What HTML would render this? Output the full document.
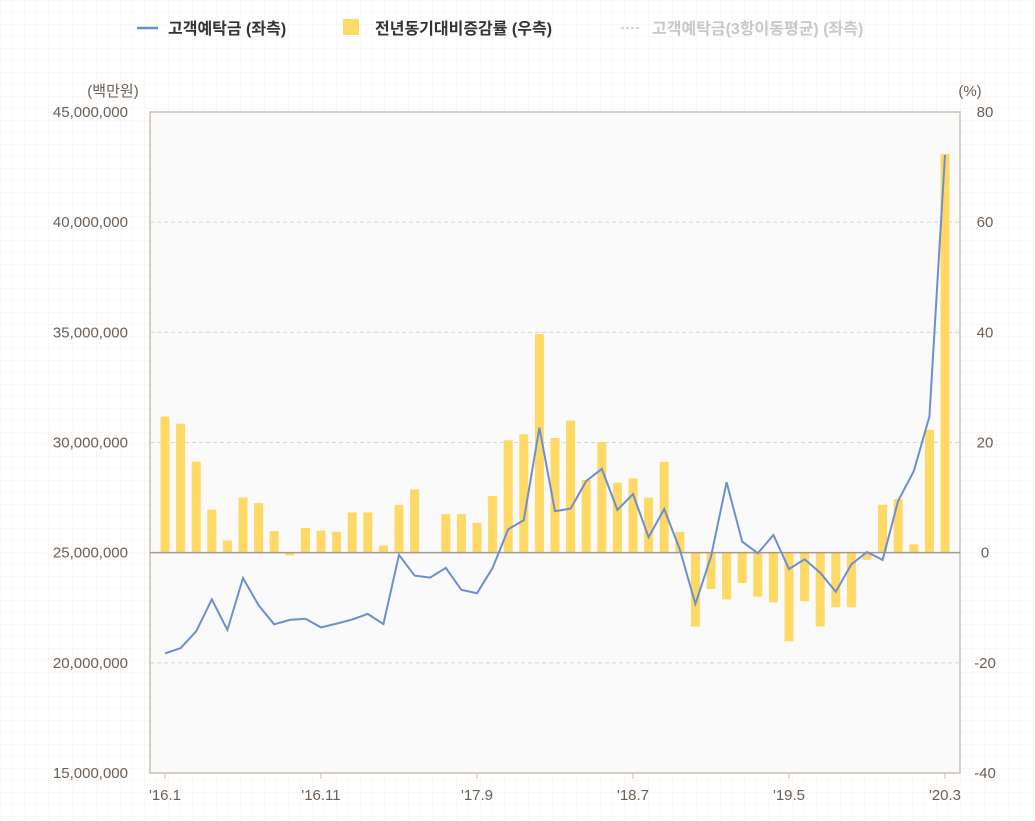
<!DOCTYPE html>
<html><head><meta charset="utf-8">
<style>
body{margin:0;background:#fff;font-family:"Liberation Sans","Noto Sans CJK KR",sans-serif;}
svg{display:block}
</style></head>
<body>
<svg id="chart" width="1035" height="821" xmlns="http://www.w3.org/2000/svg" font-family="Liberation Sans, Noto Sans CJK KR, sans-serif">
<defs>
<pattern id="bggrid" width="12" height="12" patternUnits="userSpaceOnUse">
<path d="M12 0H0V12" fill="none" stroke="#f0f0f0" stroke-width="1"/>
</pattern>
</defs>
<rect width="1035" height="821" fill="url(#bggrid)"/>
<rect x="150" y="112" width="810" height="661" fill="#fafafa" stroke="#cdbfae" stroke-width="1.5"/>
<g id="grid"></g>
<g id="bars"></g>
<line id="zeroline" stroke="#a89a8a" stroke-width="1.5"/>
<path id="line" fill="none" stroke="#6d8fd0" stroke-width="2"/>
<g id="axes" font-size="15" fill="#6b5f55"></g>
<text x="113" y="96" font-size="15" fill="#6b5f55" text-anchor="middle">(백만원)</text>
<text x="970" y="96" font-size="15" fill="#6b5f55" text-anchor="middle">(%)</text>
<g font-size="16" font-weight="bold">
<g><line x1="137" y1="28" x2="158" y2="28" stroke="#6d8fd0" stroke-width="2.5"/><text x="168" y="34" fill="#333">고객예탁금 (좌측)</text></g>
<g><rect x="343" y="19" width="16" height="16" fill="#ffd966"/><text x="375" y="34" fill="#333">전년동기대비증감률 (우측)</text></g>
<g><line x1="621" y1="28" x2="641" y2="28" stroke="#ccc" stroke-width="1.5" stroke-dasharray="3,2"/><text x="652" y="34" fill="#c8c8c8">고객예탁금(3항이동평균) (좌측)</text></g>
</g>
</svg>
<script>
const deposits = [20.43,20.67,21.43,22.88,21.49,23.85,22.61,21.75,21.95,22.0,21.61,21.78,21.96,22.22,21.76,24.9,23.96,23.87,24.31,23.31,23.16,24.31,26.06,26.48,30.67,26.88,27.0,28.25,28.8,26.94,27.66,25.7,26.98,25.15,22.67,24.82,28.2,25.5,24.97,25.8,24.26,24.7,24.09,23.23,24.47,25.03,24.67,27.36,28.7,31.17,43.05];
const yoyPct = [24.7,23.4,16.5,7.8,2.2,10,9,3.9,-0.5,4.5,4.0,3.8,7.3,7.3,1.3,8.7,11.5,0,7.0,7.0,5.4,10.3,20.4,21.5,39.7,20.8,24.0,13.2,20.1,12.7,13.5,10,16.5,3.8,-13.4,-6.6,-8.5,-5.5,-8.0,-9.0,-16.1,-8.8,-13.4,-9.9,-9.9,-1.3,8.7,9.7,1.5,22.3,72.4];
const leftTicks = [15,20,25,30,35,40,45];
const leftTickLabels = ["15,000,000","20,000,000","25,000,000","30,000,000","35,000,000","40,000,000","45,000,000"];
const rightTicks = [-40,-20,0,20,40,60,80];
const xTickIdx = [0,10,20,30,40,50];
const xTickLabels = ["'16.1","'16.11","'17.9","'18.7","'19.5","'20.3"];

const NS="http://www.w3.org/2000/svg";
const plotTop=112,plotBot=773;
const yL=v=>plotBot-(v-15)/30*(plotBot-plotTop);
const yR=v=>plotBot-(v+40)/120*(plotBot-plotTop);
const xI=i=>165+i*(945-165)/(deposits.length-1);
function mk(tag,attrs,parent){const e=document.createElementNS(NS,tag);for(const k in attrs)e.setAttribute(k,attrs[k]);parent.appendChild(e);return e;}
const gridG=document.getElementById('grid'),barsG=document.getElementById('bars'),axesG=document.getElementById('axes');
leftTicks.forEach((t,i)=>{
  if(t!==15&&t!==45&&t!==25){const g=mk('line',{x1:150,x2:960,y1:yL(t),y2:yL(t),stroke:'#d5d5d5','stroke-dasharray':'4,3'},gridG);
  
  }
  const tx=mk('text',{x:128,y:yL(t)+5,'text-anchor':'end'},axesG);tx.textContent=leftTickLabels[i];
  
  
});
rightTicks.forEach(t=>{
  const tx=mk('text',{x:985,y:yR(t)+5,'text-anchor':'middle'},axesG);tx.textContent=t;
  
  
});
xTickIdx.forEach((ix,i)=>{
  const tk=mk('line',{x1:xI(ix),x2:xI(ix),y1:773,y2:779,stroke:'#cdbfae'},axesG);
  
  
  const tx=mk('text',{x:xI(ix),y:800,'text-anchor':'middle'},axesG);tx.textContent=xTickLabels[i];
  
  
});
const z=yR(0);
yoyPct.forEach((v,i)=>{
  const y=yR(v);
  const r=mk('rect',{x:xI(i)-4.5,y:Math.min(y,z),width:9,height:Math.abs(z-y),fill:'#ffd966'},barsG);
  
  
});
const zl=document.getElementById('zeroline');zl.setAttribute('x1',150);zl.setAttribute('x2',960);zl.setAttribute('y1',z);zl.setAttribute('y2',z);
document.getElementById('line').setAttribute('d',deposits.map((v,i)=>(i?'L':'M')+xI(i).toFixed(1)+' '+yL(v).toFixed(1)).join(''));
</script>
</body></html>
